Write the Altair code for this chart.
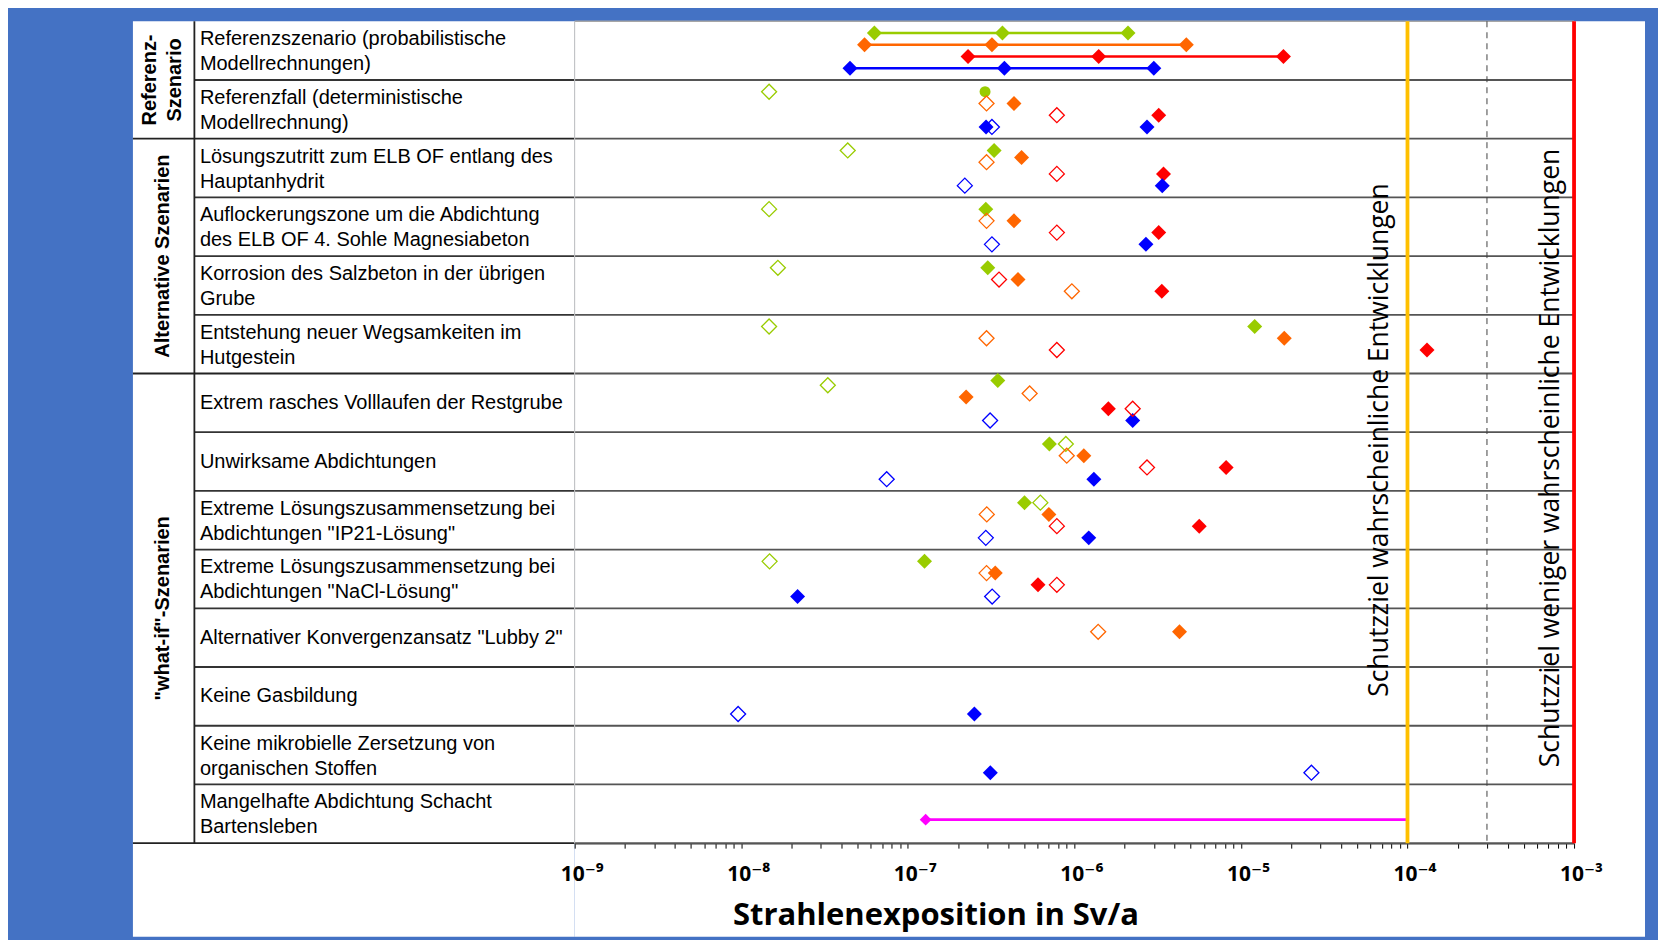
import altair as alt
import pandas as pd

# ------------------------------------------------------------------ data
row_labels = [
    "Referenzszenario (probabilistische\nModellrechnungen)",
    "Referenzfall (deterministische\nModellrechnung)",
    "Lösungszutritt zum ELB OF entlang des\nHauptanhydrit",
    "Auflockerungszone um die Abdichtung\ndes ELB OF 4. Sohle Magnesiabeton",
    "Korrosion des Salzbeton in der übrigen\nGrube",
    "Entstehung neuer Wegsamkeiten im\nHutgestein",
    "Extrem rasches Volllaufen der Restgrube",
    "Unwirksame Abdichtungen",
    "Extreme Lösungszusammensetzung bei\nAbdichtungen \"IP21-Lösung\"",
    "Extreme Lösungszusammensetzung bei\nAbdichtungen \"NaCl-Lösung\"",
    "Alternativer Konvergenzansatz \"Lubby 2\"",
    "Keine Gasbildung",
    "Keine mikrobielle Zersetzung von\norganischen Stoffen",
    "Mangelhafte Abdichtung Schacht\nBartensleben",
]
group_labels = ["Referenz-\nSzenario", "Alternative Szenarien", "\"what-if\"-Szenarien"]
group_start = [0, 2, 6]
group_end = [2, 6, 14]

series_names = ["gruen", "orange", "rot", "blau"]
series_colors = ["#99CC00", "#FF6600", "#FF0000", "#0000FF"]

# Referenzszenario (probabilistisch): min / median / max per series
range_series = ["gruen", "orange", "rot", "blau"]
range_level = [1, 2, 3, 4]
range_min = [6.3e-8, 5.5e-8, 2.3e-7, 4.5e-8]
range_med = [3.7e-7, 3.2e-7, 1.4e-6, 3.8e-7]
range_max = [2.1e-6, 4.7e-6, 1.8e-5, 3.0e-6]

# single results
pt_row = [1, 1, 1, 1, 1, 1, 1, 1, 1,
          2, 2, 2, 2, 2, 2, 2, 2,
          3, 3, 3, 3, 3, 3, 3, 3,
          4, 4, 4, 4, 4, 4,
          5, 5, 5, 5, 5, 5,
          6, 6, 6, 6, 6, 6, 6, 6,
          7, 7, 7, 7, 7, 7, 7, 7,
          8, 8, 8, 8, 8, 8, 8, 8,
          9, 9, 9, 9, 9, 9, 9, 9,
          10, 10,
          11, 11,
          12, 12]
pt_series = ["gruen", "gruen", "orange", "orange", "rot", "rot", "blau", "blau", "blau",
             "gruen", "gruen", "orange", "orange", "rot", "rot", "blau", "blau",
             "gruen", "gruen", "orange", "orange", "rot", "rot", "blau", "blau",
             "gruen", "gruen", "rot", "orange", "orange", "rot",
             "gruen", "orange", "rot", "gruen", "orange", "rot",
             "gruen", "gruen", "orange", "orange", "rot", "rot", "blau", "blau",
             "gruen", "gruen", "orange", "orange", "rot", "rot", "blau", "blau",
             "gruen", "gruen", "orange", "orange", "rot", "rot", "blau", "blau",
             "gruen", "gruen", "orange", "orange", "rot", "rot", "blau", "blau",
             "orange", "orange",
             "blau", "blau",
             "blau", "blau"]
pt_style = ["offen", "kreis", "offen", "voll", "offen", "voll", "voll", "offen", "voll",
            "offen", "voll", "offen", "voll", "offen", "voll", "offen", "voll",
            "offen", "voll", "offen", "voll", "offen", "voll", "offen", "voll",
            "offen", "voll", "offen", "voll", "offen", "voll",
            "offen", "offen", "offen", "voll", "voll", "voll",
            "offen", "voll", "voll", "offen", "voll", "offen", "offen", "voll",
            "voll", "offen", "offen", "voll", "offen", "voll", "offen", "voll",
            "voll", "offen", "offen", "voll", "offen", "voll", "offen", "voll",
            "offen", "voll", "offen", "voll", "voll", "offen", "voll", "offen",
            "offen", "voll",
            "offen", "voll",
            "voll", "offen"]
pt_level = [1, 1, 2, 2, 3, 3, 4, 4, 4,
            1, 1, 2, 1.6, 3, 3, 4, 4,
            1, 1, 2, 2, 3, 3, 4, 4,
            1, 1, 2, 2, 3, 3,
            1, 2, 3, 1, 2, 3,
            1, 0.6, 2, 1.7, 3, 3, 4, 4,
            1, 1, 2, 2, 3, 3, 4, 4,
            1, 1, 2, 2, 3, 3, 4, 4,
            1, 1, 2, 2, 3, 3, 4, 4,
            2, 2,
            4, 4,
            4, 4]
pt_value = [1.47e-8, 2.91e-7, 2.97e-7, 4.34e-7, 7.85e-7, 3.21e-6, 2.95e-7, 3.20e-7, 2.73e-6,
            4.36e-8, 3.30e-7, 2.97e-7, 4.82e-7, 7.85e-7, 3.43e-6, 2.20e-7, 3.37e-6,
            1.47e-8, 2.94e-7, 2.97e-7, 4.34e-7, 7.85e-7, 3.21e-6, 3.20e-7, 2.69e-6,
            1.66e-8, 3.02e-7, 3.53e-7, 4.59e-7, 9.66e-7, 3.35e-6,
            1.47e-8, 2.97e-7, 7.85e-7, 1.21e-5, 1.82e-5, 1.31e-4,
            3.31e-8, 3.47e-7, 2.24e-7, 5.39e-7, 1.60e-6, 2.24e-6, 3.12e-7, 2.24e-6,
            7.08e-7, 8.89e-7, 9.00e-7, 1.14e-6, 2.73e-6, 8.15e-6, 7.47e-8, 1.31e-6,
            5.02e-7, 6.25e-7, 2.98e-7, 7.03e-7, 7.85e-7, 5.62e-6, 2.94e-7, 1.22e-6,
            1.48e-8, 1.26e-7, 2.97e-7, 3.35e-7, 6.05e-7, 7.85e-7, 2.18e-8, 3.21e-7,
            1.39e-6, 4.28e-6,
            9.58e-9, 2.51e-7,
            3.13e-7, 2.65e-5]

# Mangelhafte Abdichtung Schacht Bartensleben: range up to the target value
mangel_row = 13
mangel_level = 3
mangel_min = 1.28e-7
mangel_max = 1.0e-4

# protection targets
schutz_values = [1e-4, 1e-3]
schutz_labels = ["Schutzziel wahrscheinliche Entwicklungen",
                 "Schutzziel weniger wahrscheinliche Entwicklungen"]
schutz_colors = ["#FFC000", "#FF0000"]
zwischen_value = 3e-4

x_min, x_max = 1e-9, 1e-3
major_ticks = [1e-9, 1e-8, 1e-7, 1e-6, 1e-5, 1e-4, 1e-3]
tick_labels = ["10⁻⁹", "10⁻⁸", "10⁻⁷", "10⁻⁶", "10⁻⁵", "10⁻⁴", "10⁻³"]
tick_exps = [-9, -8, -7, -6, -5, -4, -3]
minor_ticks = [m * t for t in major_ticks[:-1] for m in range(2, 10)]
n_rows = len(row_labels)

# ------------------------------------------------------------------ frames
SUB = 5.0  # sub-rows per table row
pts = pd.DataFrame({"row": pt_row, "series": pt_series, "style": pt_style,
                    "level": pt_level, "value": pt_value})
pts["y"] = pts["row"] + pts["level"] / SUB
pts["shape"] = pts["style"].map({"voll": "raute", "offen": "raute", "kreis": "kreis"})

rng = pd.DataFrame({"series": range_series, "level": range_level,
                    "lo": range_min, "med": range_med, "hi": range_max})
rng["y"] = rng["level"] / SUB
rng_pts = rng.melt(id_vars=["series", "y"], value_vars=["lo", "med", "hi"],
                   var_name="stat", value_name="value")

mangel = pd.DataFrame({"lo": [mangel_min], "hi": [mangel_max],
                       "y": [mangel_row + mangel_level / SUB]})

bounds = pd.DataFrame({"b": list(range(n_rows + 1))})
bounds["gruppe"] = bounds["b"].isin(group_start + [n_rows])
bounds["xa"] = x_min
bounds["xb"] = x_max

rows_df = pd.DataFrame({"label": row_labels, "mitte": [i + 0.5 for i in range(n_rows)]})
rows_df["zweizeilig"] = rows_df["label"].str.contains("\n")
groups_df = pd.DataFrame({"label": group_labels,
                          "mitte": [(a + b) / 2 for a, b in zip(group_start, group_end)]})
groups_df["zweizeilig"] = groups_df["label"].str.contains("\n")
vlines = pd.DataFrame({"wert": schutz_values, "farbe": schutz_colors,
                       "y0": [0, 0], "y1": [n_rows, n_rows]})
dash_df = pd.DataFrame({"wert": [zwischen_value], "y0": [0], "y1": [n_rows]})
edge_df = pd.DataFrame({"wert": [x_min], "y0": [0], "y1": [n_rows]})

# ------------------------------------------------------------------ layout
ROW_PX = 58.74
TABLE_H = ROW_PX * n_rows          # 822.4
VIEW_H = 916
LEFT_W = 442
COL1 = 61.5
PLOT_W = 1071
PLOT_RANGE = 1000
LINE_H = 25

label_font = "Liberation Sans, Arial, sans-serif"
open_font = "Open Sans, DejaVu Sans, sans-serif"

y_scale = alt.Scale(domain=[0, n_rows], range=[0, TABLE_H], nice=False, zero=False)
x_scale = alt.Scale(type="log", domain=[x_min, x_max], range=[0, PLOT_RANGE], nice=False)

label_expr = "''"
for e, lab in reversed(list(zip(tick_exps, tick_labels))):
    label_expr = f"abs(log(datum.value)/LN10 - ({e})) < 0.01 ? '{lab}' : " + label_expr

x_axis = alt.Axis(
    values=sorted(major_ticks + minor_ticks),
    labelExpr=label_expr,
    orient="bottom",
    offset=-(VIEW_H - TABLE_H),
    grid=False,
    domain=True, domainColor="#404040", domainWidth=1.5,
    ticks=True, tickColor="#000000", tickSize=5, tickWidth=1,
    labelFont=open_font, labelFontSize=21, labelFontWeight="bold", labelColor="black",
    labelPadding=32, labelBaseline="alphabetic", labelOffset=7,
    labelOverlap=False, labelFlush=False,
    title="Strahlenexposition in Sv/a",
    titleFont=open_font, titleFontSize=31, titleFontWeight="bold", titleColor="black",
    titleX=361, titleY=81, titleAlign="center", titleBaseline="alphabetic",
)


def X(field):
    return alt.X(field, type="quantitative", scale=x_scale, axis=x_axis)


def Y(field):
    return alt.Y(field, type="quantitative", scale=y_scale, axis=None)


color_scale = alt.Scale(domain=series_names, range=series_colors)

# ------------------------------------------------------------------ left table
row_lines = alt.Chart(bounds).transform_filter("!datum.gruppe && datum.b > 0").mark_rule(
    color="#333333", strokeWidth=1.8).encode(
    y=Y("b"), x=alt.value(COL1), x2=alt.value(LEFT_W))
grp_lines = alt.Chart(bounds).transform_filter("datum.gruppe && datum.b > 0").mark_rule(
    color="#222222", strokeWidth=1.8).encode(
    y=Y("b"), x=alt.value(0), x2=alt.value(LEFT_W))
col_sep = alt.Chart(edge_df).mark_rule(color="#222222", strokeWidth=1.8).encode(
    x=alt.value(COL1), y=Y("y0"), y2="y1")


def row_text(two_lines):
    flt = "datum.zweizeilig" if two_lines else "!datum.zweizeilig"
    return alt.Chart(rows_df).transform_filter(flt).mark_text(
        align="left", baseline="middle", lineBreak="\n", font=label_font,
        fontSize=20, lineHeight=LINE_H, color="black",
        dy=-LINE_H / 2 + 1 if two_lines else 0).encode(
        x=alt.value(COL1 + 5.5), y=Y("mitte"), text="label")


def grp_text(two_lines):
    flt = "datum.zweizeilig" if two_lines else "!datum.zweizeilig"
    return alt.Chart(groups_df).transform_filter(flt).mark_text(
        align="center", baseline="middle", lineBreak="\n", font=label_font,
        fontSize=20, fontWeight="bold", lineHeight=LINE_H, angle=270, color="black",
        dy=-LINE_H / 2 if two_lines else 0).encode(
        x=alt.value(30), y=Y("mitte"), text="label")


left = alt.layer(row_lines, grp_lines, col_sep, row_text(False), row_text(True),
                 grp_text(False), grp_text(True)).properties(width=LEFT_W, height=VIEW_H)

# ------------------------------------------------------------------ plot
p_rows = alt.Chart(bounds).transform_filter("datum.b > 0").mark_rule(
    color="#555555", strokeWidth=1.8).encode(x=X("xa"), x2="xb", y=Y("b"))
p_top = alt.Chart(bounds).transform_filter("datum.b == 0").mark_rule(
    color="#A6A6A6", strokeWidth=1.5).encode(x=X("xa"), x2="xb", y=Y("b"))
p_edge = alt.Chart(edge_df).mark_rule(color="#BFBFBF", strokeWidth=1).encode(
    x=X("wert"), y=Y("y0"), y2="y1")
p_dash = alt.Chart(dash_df).mark_rule(color="#404040", strokeWidth=1, strokeDash=[6, 5]).encode(
    x=X("wert"), y=Y("y0"), y2="y1")
p_vl = alt.Chart(vlines).mark_rule(strokeWidth=3.8).encode(
    x=X("wert"), y=Y("y0"), y2="y1", color=alt.Color("farbe:N", scale=None, legend=None))

p_rng_line = alt.Chart(rng).mark_rule().encode(
    x=X("lo"), x2="hi", y=Y("y"),
    color=alt.Color("series:N", scale=color_scale, legend=None),
    strokeWidth=alt.StrokeWidth("series:N", scale=alt.Scale(domain=series_names, range=[2.4, 2.4, 2.4, 3.8]), legend=None))
size_scale = alt.Scale(domain=series_names, range=[225, 225, 225, 320])
p_rng_pts = alt.Chart(rng_pts).mark_point(shape="diamond", filled=True, opacity=1).encode(
    x=X("value"), y=Y("y"),
    color=alt.Color("series:N", scale=color_scale, legend=None),
    size=alt.Size("series:N", scale=size_scale, legend=None))

shape_scale = alt.Scale(domain=["raute", "kreis"], range=["diamond", "circle"])
p_full = alt.Chart(pts).transform_filter("datum.style != 'offen'").mark_point(
    filled=True, opacity=1).encode(
    x=X("value"), y=Y("y"),
    color=alt.Color("series:N", scale=color_scale, legend=None),
    shape=alt.Shape("shape:N", scale=shape_scale, legend=None),
    size=alt.condition("datum.style == 'kreis'", alt.value(120),
                       alt.Size("series:N", scale=size_scale, legend=None)))
p_open = alt.Chart(pts).transform_filter("datum.style == 'offen'").mark_point(
    filled=False, opacity=1, strokeWidth=1.3, shape="diamond").encode(
    x=X("value"), y=Y("y"),
    color=alt.Color("series:N", scale=color_scale, legend=None),
    size=alt.Size("series:N", scale=alt.Scale(domain=series_names, range=[160, 160, 160, 230]), legend=None))

p_mangel = alt.Chart(mangel).mark_rule(color="#FF00FF", strokeWidth=2.6).encode(
    x=X("lo"), x2="hi", y=Y("y"))
p_mangel_pt = alt.Chart(mangel).mark_point(shape="diamond", filled=True, opacity=1,
                                           color="#FF00FF", size=140).encode(
    x=X("lo"), y=Y("y"))

txt1 = alt.Chart(pd.DataFrame({"wert": [schutz_values[0]], "t": [schutz_labels[0]]})).mark_text(
    angle=270, align="center", baseline="middle", font=open_font, fontSize=26.5,
    color="black", dy=-27).encode(x=X("wert"), y=alt.value(419), text="t")
txt2 = alt.Chart(pd.DataFrame({"wert": [schutz_values[1]], "t": [schutz_labels[1]]})).mark_text(
    angle=270, align="center", baseline="middle", font=open_font, fontSize=26.5,
    color="black", dy=-23).encode(x=X("wert"), y=alt.value(437), text="t")

plot = alt.layer(p_top, p_rows, p_edge, p_dash, p_rng_line, p_rng_pts, p_full, p_open,
                 p_mangel, p_mangel_pt, p_vl, txt1, txt2).properties(
    width=PLOT_W, height=VIEW_H)

chart = alt.hconcat(left, plot, spacing=0, bounds="flush").properties(
    background="#4472C4",
    padding={"left": 124, "top": 11, "right": 13, "bottom": 3},
).configure_view(fill="white", strokeWidth=0).configure_concat(spacing=0)

chart.save("out.html", embed_options={"renderer": "svg", "actions": False})
